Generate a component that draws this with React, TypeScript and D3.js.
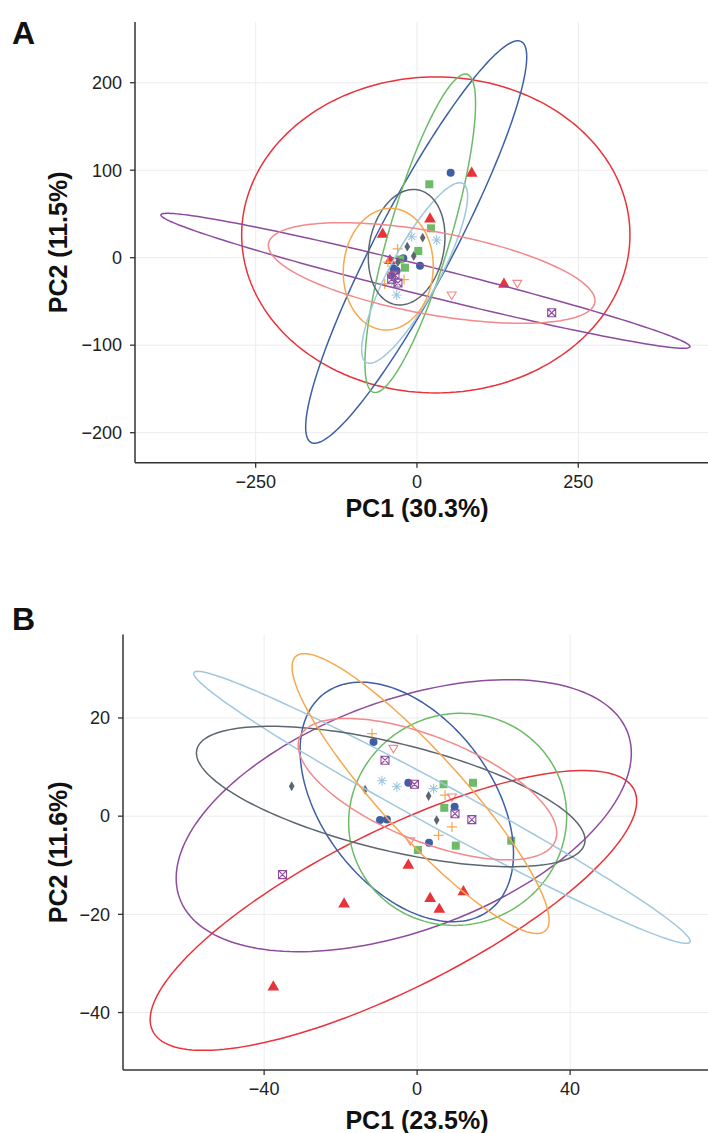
import React, { useRef, useEffect } from 'react';
import * as d3 from 'd3';

// groups (one colour / shape each, no legend in the figure)
const groupKeys = ['red', 'purple', 'blue', 'green', 'lightblue', 'gray', 'orange', 'pink'];

const groupColors: Record<string, string> = {
    red: '#e8333a',
    purple: '#8e4b9e',
    blue: '#3e5fa6',
    green: '#6dbb67',
    lightblue: '#9fc8de',
    gray: '#5c6670',
    orange: '#f6a84f',
    pink: '#f2898a'
};

const groupShapes: Record<string, string> = {
    red: 'triangle',
    purple: 'boxx',
    blue: 'circle',
    green: 'square',
    lightblue: 'asterisk',
    gray: 'diamond',
    orange: 'plus',
    pink: 'downtri'
};

// panel A
const ticksAx = [-250, 0, 250];
const ticksAy = [-200, -100, 0, 100, 200];

// [group, PC1, PC2]
const pointsA: [string, number, number][] = [
    ['red', 84.8, 96.5], ['red', 20.2, 44.2], ['red', -53.2, 26.7], ['red', -41.9, -3.4], ['red', 134.8, -30.4],
    ['blue', 52.2, 97.1], ['blue', 4.7, -9.1], ['blue', -36.7, -12.1], ['blue', -31.5, -14.9], ['blue', -21.2, -0.7], ['blue', -40, -20],
    ['green', 19.1, 83.9], ['green', 21.7, 33.6], ['green', 2, 7.7], ['green', -18.6, -11.4], ['green', -26, -2],
    ['lightblue', 30.5, 20.2], ['lightblue', -31.5, -42.6], ['lightblue', -8.2, 24], ['lightblue', -35, -28],
    ['gray', 8.8, 22.9], ['gray', -15, 12.6], ['gray', -29.5, -4.9], ['gray', -5, 2],
    ['orange', -45, -5], ['orange', -30, 10], ['orange', -20, -25], ['orange', -50, -30],
    ['pink', 155.5, -29.3], ['pink', 53.8, -42.6], ['pink', -38.8, -19.8],
    ['purple', 208.8, -62.9], ['purple', -34.1, -19.8], ['purple', -39.2, -24.7], ['purple', -29.5, -28.9]
];

// [group, centre PC1, centre PC2, half-width PC1, half-height PC2, correlation]
const ellipsesA: [string, number, number, number, number, number][] = [
    ['red', 29.2, 26, 300.9, 180.6, 0],
    ['purple', 13.2, -26.4, 410, 77.1, -0.975],
    ['blue', -1.2, 17.9, 171.3, 230, 0.92],
    ['green', 5.1, 27.9, 85.7, 182, 0.815],
    ['lightblue', -3.6, -17.5, 82.1, 103.2, 0.85],
    ['gray', -16, 12, 59.4, 66, 0.18],
    ['orange', -44.5, -13.1, 69.7, 69.5, 0.05],
    ['pink', 22.8, -17.5, 253.1, 57.5, -0.55]
];

// panel B
const ticksBx = [-40, 0, 40];
const ticksBy = [-40, -20, 0, 20];

const pointsB: [string, number, number][] = [
    ['red', -37.6, -34.8], ['red', -19.1, -17.9], ['red', -2.3, -10], ['red', 3.4, -16.8], ['red', 5.8, -19], ['red', 12.1, -15.4],
    ['blue', -11.4, 15.1], ['blue', -9.7, -0.8], ['blue', -7.9, -0.7], ['blue', -2.3, 6.8], ['blue', 9.8, 1.9], ['blue', 3.1, -5.4],
    ['green', 6.9, 6.5], ['green', 14.6, 6.8], ['green', 7.1, 1.7], ['green', 10.1, -6], ['green', 0.2, -6.9], ['green', 24.6, -5],
    ['purple', -35.2, -11.9], ['purple', -8.4, 11.4], ['purple', -0.7, 6.5], ['purple', 9.9, 0.5], ['purple', 14.3, -0.7],
    ['gray', -32.8, 6.1], ['gray', -13.6, 5.4], ['gray', 3, 4.1], ['gray', 5.1, -0.8],
    ['lightblue', -9.2, 7.2], ['lightblue', -5.3, 6], ['lightblue', 4.3, 5.6],
    ['orange', -11.8, 16.8], ['orange', 9.1, -2.2], ['orange', 5.6, -3.9], ['orange', 7.3, 4.3],
    ['pink', -6.2, 13.8], ['pink', -1.8, -5], ['pink', 9.1, 3.9]
];

const ellipsesB: [string, number, number, number, number, number][] = [
    ['red', -6.2, -19.2, 63.6, 28.5, 0.78],
    ['purple', -3.5, 0.1, 59.5, 27.7, 0.46],
    ['blue', -2.7, 2.9, 27.9, 24.4, -0.43],
    ['green', 10.6, -0.65, 28.5, 21.6, 0.03],
    ['lightblue', 6.5, 1.8, 64.9, 27.7, -0.984],
    ['gray', -6.9, 4.0, 50.8, 14.3, -0.62],
    ['orange', 0.9, 4.6, 33.6, 28.5, -0.905],
    ['pink', 2.7, 5.5, 33.8, 14.4, -0.62]
];

const W = 708;
const H = 1133;
const FONT = "'Liberation Sans', Arial, sans-serif";

function fmt(v: number) {
    return v < 0 ? '\u2212' + Math.abs(v) : String(v);
}

function drawShape(g: any, shape: string, px: number, py: number, color: string) {
    if (shape === 'circle') {
        g.append('circle').attr('cx', px).attr('cy', py).attr('r', 4).attr('fill', color);
    } else if (shape === 'triangle') {
        g.append('path').attr('d', d3.symbol(d3.symbolTriangle, 60)())
            .attr('transform', `translate(${px},${py})`).attr('fill', color);
    } else if (shape === 'square') {
        g.append('rect').attr('x', px - 4).attr('y', py - 4).attr('width', 8).attr('height', 8).attr('fill', color);
    } else if (shape === 'diamond') {
        g.append('path').attr('d', d3.symbol(d3.symbolDiamond, 28)())
            .attr('transform', `translate(${px},${py})`).attr('fill', color);
    } else if (shape === 'asterisk') {
        const r = 5;
        g.append('path')
            .attr('d', `M${px - r},${py}H${px + r}M${px},${py - r}V${py + r}M${px - 3.5},${py - 3.5}L${px + 3.5},${py + 3.5}M${px - 3.5},${py + 3.5}L${px + 3.5},${py - 3.5}`)
            .attr('stroke', color).attr('stroke-width', 1.1).attr('fill', 'none');
    } else if (shape === 'plus') {
        const r = 5;
        g.append('path').attr('d', `M${px - r},${py}H${px + r}M${px},${py - r}V${py + r}`)
            .attr('stroke', color).attr('stroke-width', 1.2).attr('fill', 'none');
    } else if (shape === 'downtri') {
        g.append('path').attr('d', `M${px - 4.5},${py - 3}L${px + 4.5},${py - 3}L${px},${py + 4.5}Z`)
            .attr('stroke', color).attr('stroke-width', 1.1).attr('fill', 'none');
    } else if (shape === 'boxx') {
        g.append('path')
            .attr('d', `M${px - 4},${py - 4}H${px + 4}V${py + 4}H${px - 4}ZM${px - 4},${py - 4}L${px + 4},${py + 4}M${px - 4},${py + 4}L${px + 4},${py - 4}`)
            .attr('stroke', color).attr('stroke-width', 1.1).attr('fill', 'none');
    }
}

function drawPanel(svg: any, opts: any) {
    const { xDomain, yDomain, xRange, yRange, xTicks, yTicks, points, ellipses, letter, letterY, xTitle, yTitle, xTitleY, yTitleX } = opts;
    const x = d3.scaleLinear().domain(xDomain).range(xRange);
    const y = d3.scaleLinear().domain(yDomain).range(yRange);
    const g = svg.append('g');

    // grid
    g.selectAll('.gx').data(xTicks).enter().append('line')
        .attr('x1', (d: number) => x(d)).attr('x2', (d: number) => x(d))
        .attr('y1', yRange[0]).attr('y2', yRange[1])
        .attr('stroke', '#ececec').attr('stroke-width', 1);
    g.selectAll('.gy').data(yTicks).enter().append('line')
        .attr('y1', (d: number) => y(d)).attr('y2', (d: number) => y(d))
        .attr('x1', xRange[0]).attr('x2', xRange[1])
        .attr('stroke', '#ececec').attr('stroke-width', 1);

    // points
    points.forEach((p: [string, number, number]) => {
        drawShape(g, groupShapes[p[0]], x(p[1]), y(p[2]), groupColors[p[0]]);
    });

    // ellipses
    const line = d3.line().curve(d3.curveLinearClosed);
    ellipses.forEach((e: [string, number, number, number, number, number]) => {
        const [grp, cx, cy, rx, ry, rho] = e;
        const phi = Math.acos(rho);
        const pts = d3.range(0, 360, 2).map(deg => {
            const t = deg * Math.PI / 180;
            return [x(cx + rx * Math.cos(t)), y(cy + ry * Math.cos(t - phi))] as [number, number];
        });
        g.append('path').attr('d', line(pts))
            .attr('fill', 'none').attr('stroke', groupColors[grp]).attr('stroke-width', 1.5);
    });

    // axes
    const axCol = '#333';
    g.append('line').attr('x1', xRange[0]).attr('x2', xRange[0]).attr('y1', yRange[0]).attr('y2', yRange[1])
        .attr('stroke', axCol).attr('stroke-width', 1.5);
    g.append('line').attr('x1', xRange[0]).attr('x2', xRange[1]).attr('y1', yRange[0]).attr('y2', yRange[0])
        .attr('stroke', axCol).attr('stroke-width', 1.5);

    xTicks.forEach((t: number) => {
        g.append('line').attr('x1', x(t)).attr('x2', x(t)).attr('y1', yRange[0]).attr('y2', yRange[0] + 5)
            .attr('stroke', axCol).attr('stroke-width', 1.3);
        g.append('text').attr('x', x(t)).attr('y', yRange[0] + 25).attr('text-anchor', 'middle')
            .attr('font-family', FONT).attr('font-size', 18).attr('fill', '#222').text(fmt(t));
    });
    yTicks.forEach((t: number) => {
        g.append('line').attr('x1', xRange[0] - 5).attr('x2', xRange[0]).attr('y1', y(t)).attr('y2', y(t))
            .attr('stroke', axCol).attr('stroke-width', 1.3);
        g.append('text').attr('x', xRange[0] - 13).attr('y', y(t)).attr('dy', '0.35em').attr('text-anchor', 'end')
            .attr('font-family', FONT).attr('font-size', 18).attr('fill', '#222').text(fmt(t));
    });

    g.append('text').attr('x', 417).attr('y', xTitleY).attr('text-anchor', 'middle')
        .attr('font-family', FONT).attr('font-size', 25).attr('font-weight', 'bold').attr('fill', '#111').text(xTitle);
    g.append('text').attr('transform', `translate(${yTitleX},${(yRange[0] + yRange[1]) / 2}) rotate(-90)`)
        .attr('text-anchor', 'middle')
        .attr('font-family', FONT).attr('font-size', 25).attr('font-weight', 'bold').attr('fill', '#111').text(yTitle);
    g.append('text').attr('x', 12).attr('y', letterY)
        .attr('font-family', FONT).attr('font-size', 32).attr('font-weight', 'bold').attr('fill', '#111').text(letter);
}

export default function App() {
    const svgRef = useRef<SVGSVGElement>(null);

    useEffect(() => {
        const svg = d3.select(svgRef.current);
        svg.selectAll('*').remove();

        drawPanel(svg, {
            xDomain: [-437, 465], yDomain: [-234.3, 269.4],
            xRange: [135, 717], yRange: [462.7, 22],
            xTicks: ticksAx, yTicks: ticksAy,
            points: pointsA, ellipses: ellipsesA,
            letter: 'A', letterY: 44,
            xTitle: 'PC1 (30.3%)', yTitle: 'PC2 (11.5%)',
            xTitleY: 517, yTitleX: 67
        });

        drawPanel(svg, {
            xDomain: [-76.9, 78.4], yDomain: [-51.7, 37],
            xRange: [123, 717], yRange: [1070, 634.5],
            xTicks: ticksBx, yTicks: ticksBy,
            points: pointsB, ellipses: ellipsesB,
            letter: 'B', letterY: 630,
            xTitle: 'PC1 (23.5%)', yTitle: 'PC2 (11.6%)',
            xTitleY: 1129, yTitleX: 67
        });
    }, []);

    return (
        <svg ref={svgRef} width={W} height={H}
            style={{ position: 'absolute', left: 0, top: 0, background: '#fff' }} />
    );
}
